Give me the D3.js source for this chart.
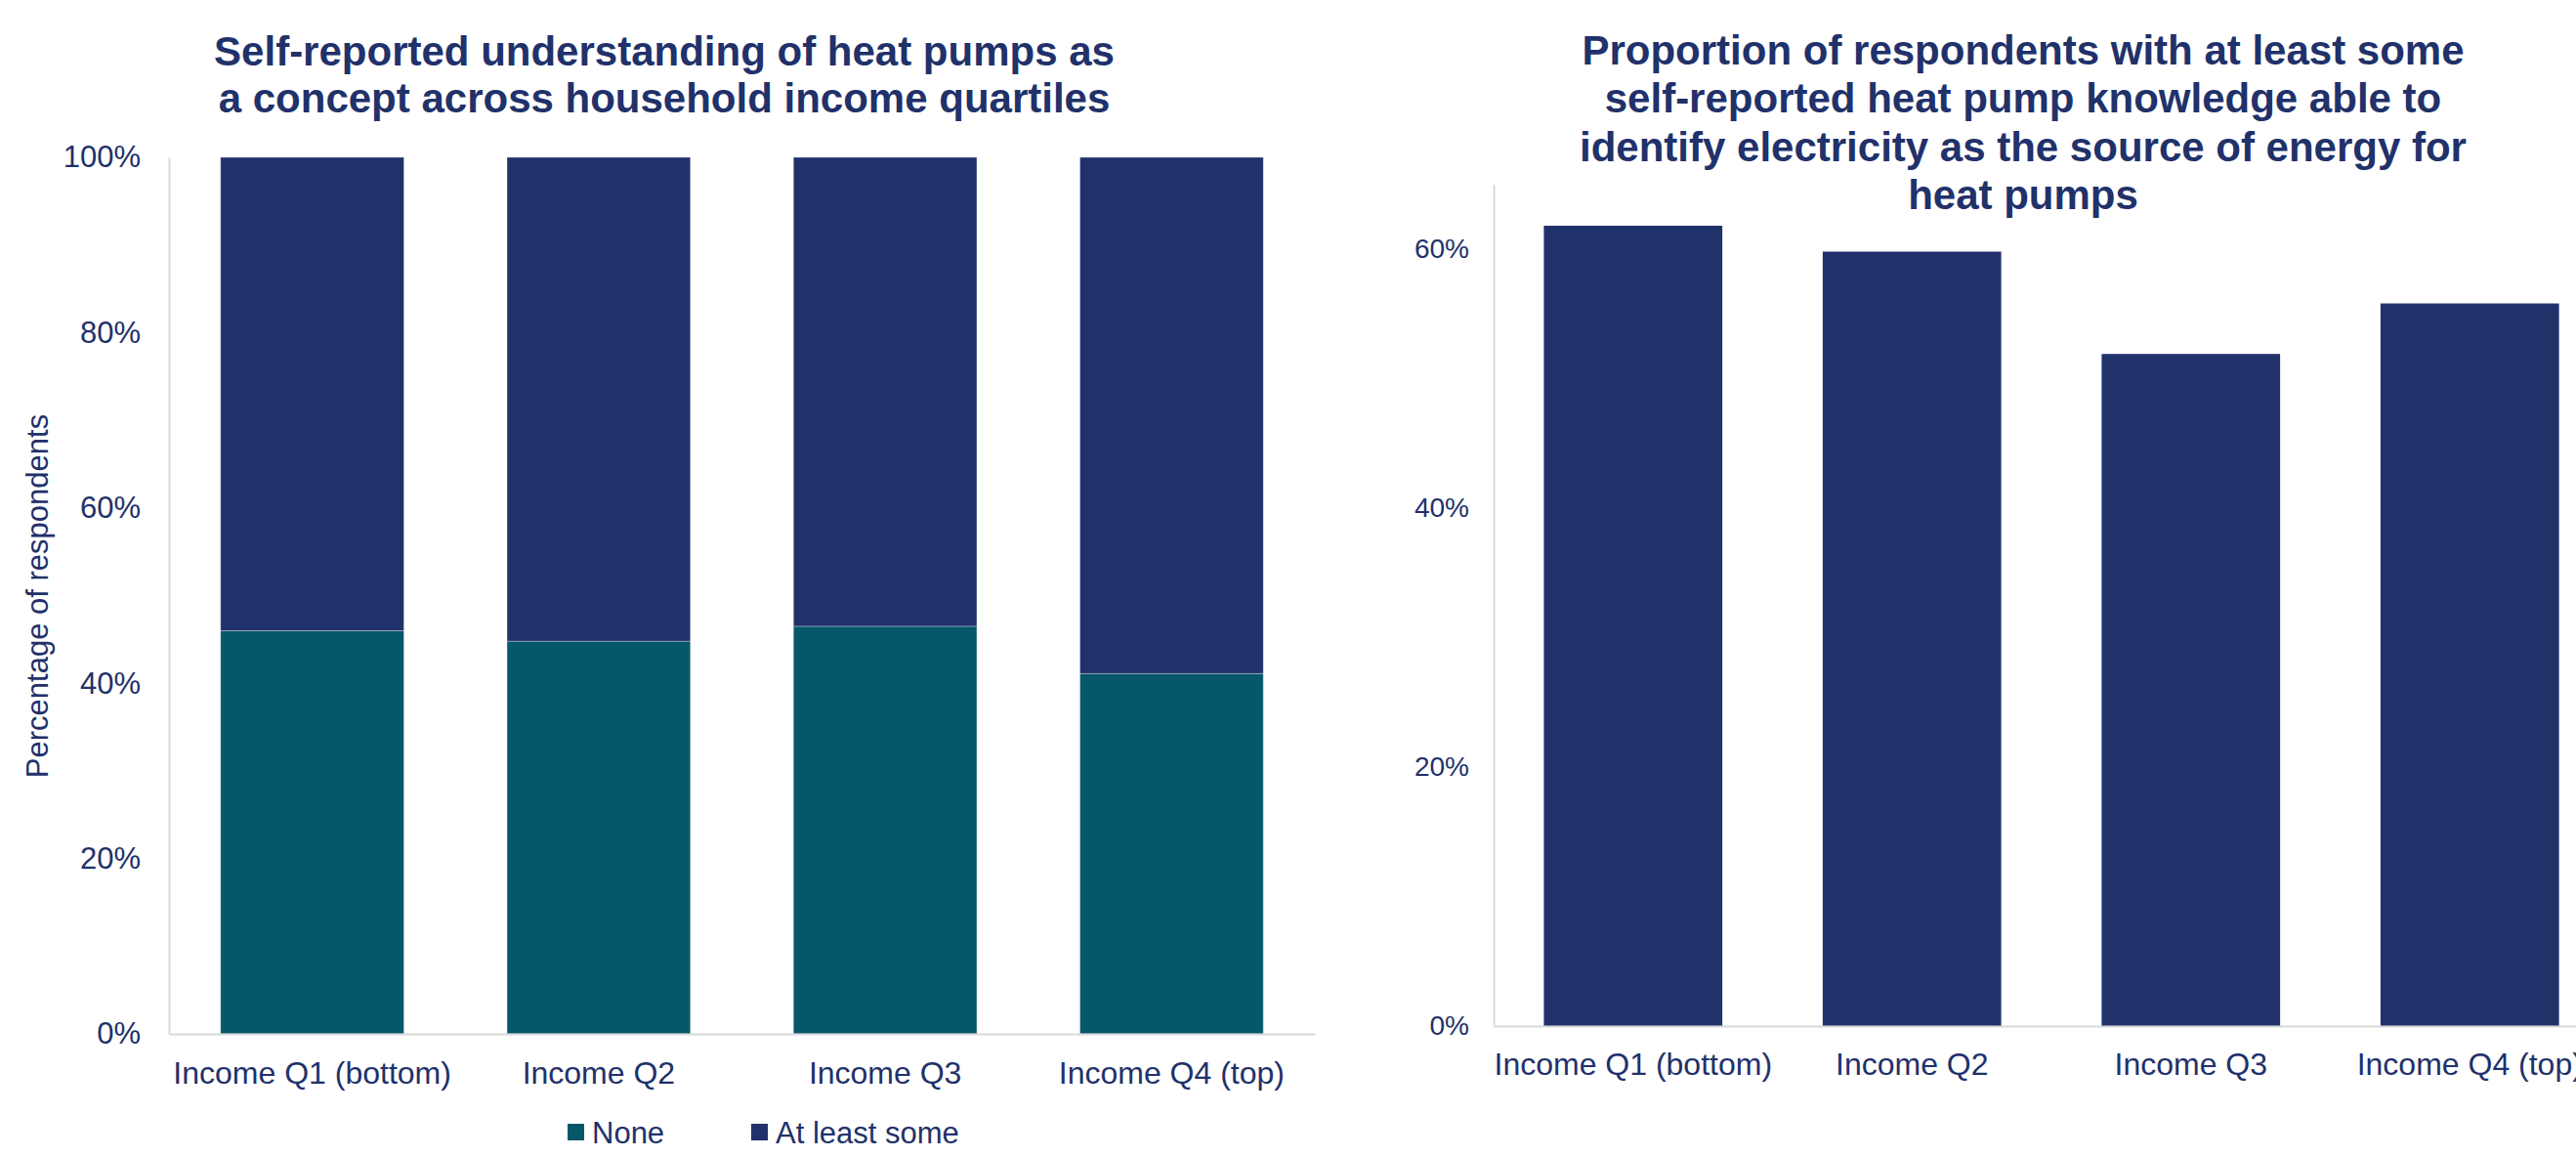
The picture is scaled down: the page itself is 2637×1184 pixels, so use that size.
<!DOCTYPE html>
<html>
<head>
<meta charset="utf-8">
<title>Heat pump understanding by income quartile</title>
<style>
  body { margin: 0; background: #ffffff; }
  svg { display: block; font-family: "Liberation Sans", Arial, sans-serif; }
  .title { font-weight: bold; fill: #21316a; font-size: 42px; }
  .axis text { fill: #21316a; }
  .axis path { stroke: #d9d9d9; stroke-width: 2; }
  .axis line { display: none; }
</style>
<script src="https://d3js.org/d3.v7.min.js"></script>
</head>
<body>
<svg id="chart" width="2637" height="1184"></svg>
<script>
// ---- data ----
var categories = ["Income Q1 (bottom)", "Income Q2", "Income Q3", "Income Q4 (top)"];
var seriesNames = ["None", "At least some"];
var noneShare = [0.460, 0.448, 0.465, 0.411];
var atLeastSomeShare = [0.540, 0.552, 0.535, 0.589];
var electricityShare = [0.618, 0.598, 0.519, 0.558];
var leftTicks = [0, 0.2, 0.4, 0.6, 0.8, 1.0];
var rightTicks = [0, 0.2, 0.4, 0.6];

var navy = "#21316a", teal = "#065769";
var pct = d3.format(".0%");

var svg = d3.select("#chart");
svg.append("rect").attr("width", 2637).attr("height", 1184).attr("fill", "#fff");

// ================= left chart: stacked =================
var L = {left: 173, right: 1346, top: 161, bottom: 1058};

var xL = d3.scaleBand().domain(categories)
    .range([L.left, L.right]).paddingInner(0.36).paddingOuter(0.18);
var yL = d3.scaleLinear().domain([0, 1]).range([L.bottom, L.top]);

var rows = categories.map(function(c, i) {
  return {cat: c, "None": noneShare[i], "At least some": atLeastSomeShare[i]};
});
var stacked = d3.stack().keys(seriesNames)(rows);
var colour = d3.scaleOrdinal().domain(seriesNames).range([teal, navy]);

svg.append("g").selectAll("g")
  .data(stacked)
  .enter().append("g")
    .attr("fill", function(d) { return colour(d.key); })
  .selectAll("rect")
  .data(function(d) { return d; })
  .enter().append("rect")
    .attr("x", function(d) { return xL(d.data.cat); })
    .attr("y", function(d) { return yL(d[1]); })
    .attr("width", xL.bandwidth())
    .attr("height", function(d) { return yL(d[0]) - yL(d[1]); })
    .attr("stroke", "rgba(255,255,255,0.3)")
    .attr("stroke-width", 1);

svg.append("g")
    .attr("class", "axis")
    .attr("transform", "translate(" + L.left + ",0)")
    .call(d3.axisLeft(yL).tickValues(leftTicks).tickFormat(pct).tickSize(0).tickPadding(29))
    .selectAll("text").style("font-size", "31px");

svg.append("g")
    .attr("class", "axis")
    .attr("transform", "translate(0," + L.bottom + ")")
    .call(d3.axisBottom(xL).tickSize(0).tickPadding(28))
    .selectAll("text").style("font-size", "32px");

svg.append("text")
    .attr("transform", "translate(38,610) rotate(-90)")
    .attr("text-anchor", "middle")
    .attr("dy", "0.35em")
    .style("font-size", "31px")
    .attr("fill", navy)
    .text("Percentage of respondents");

svg.append("text").attr("class", "title")
    .attr("text-anchor", "middle")
    .selectAll("tspan")
    .data(["Self-reported understanding of heat pumps as",
           "a concept across household income quartiles"])
    .enter().append("tspan")
      .attr("x", 680)
      .attr("y", function(d, i) { return 67 + i * 48; })
      .text(function(d) { return d; });

// legend
var legendX = [581, 769];
var legend = svg.append("g").selectAll("g")
  .data(seriesNames)
  .enter().append("g")
    .attr("transform", function(d, i) { return "translate(" + legendX[i] + ",1159)"; });
legend.append("rect")
    .attr("x", 0).attr("y", -9).attr("width", 17).attr("height", 17)
    .attr("fill", function(d) { return colour(d); });
legend.append("text")
    .attr("x", 25).attr("dy", "0.35em")
    .style("font-size", "31px")
    .attr("fill", navy)
    .text(function(d) { return d; });

// ================= right chart: single series =================
var R = {left: 1529, right: 2671, top: 188.6, bottom: 1050};

var xR = d3.scaleBand().domain(categories)
    .range([R.left, R.right]).paddingInner(0.36).paddingOuter(0.18);
var yR = d3.scaleLinear().domain([0, 0.65]).range([R.bottom, R.top]);

svg.append("g").selectAll("rect")
  .data(electricityShare)
  .enter().append("rect")
    .attr("x", function(d, i) { return xR(categories[i]); })
    .attr("y", function(d) { return yR(d); })
    .attr("width", xR.bandwidth())
    .attr("height", function(d) { return R.bottom - yR(d); })
    .attr("fill", navy);

svg.append("g")
    .attr("class", "axis")
    .attr("transform", "translate(" + R.left + ",0)")
    .call(d3.axisLeft(yR).tickValues(rightTicks).tickFormat(pct).tickSize(0).tickPadding(25))
    .selectAll("text").style("font-size", "28px");

svg.append("g")
    .attr("class", "axis")
    .attr("transform", "translate(0," + R.bottom + ")")
    .call(d3.axisBottom(xR).tickSize(0).tickPadding(27))
    .selectAll("text").style("font-size", "32px");

svg.append("text").attr("class", "title")
    .attr("text-anchor", "middle")
    .selectAll("tspan")
    .data(["Proportion of respondents with at least some",
           "self-reported heat pump knowledge able to",
           "identify electricity as the source of energy for",
           "heat pumps"])
    .enter().append("tspan")
      .attr("x", 2071)
      .attr("y", function(d, i) { return 66 + i * 49.3; })
      .text(function(d) { return d; });
</script>
</body>
</html>
